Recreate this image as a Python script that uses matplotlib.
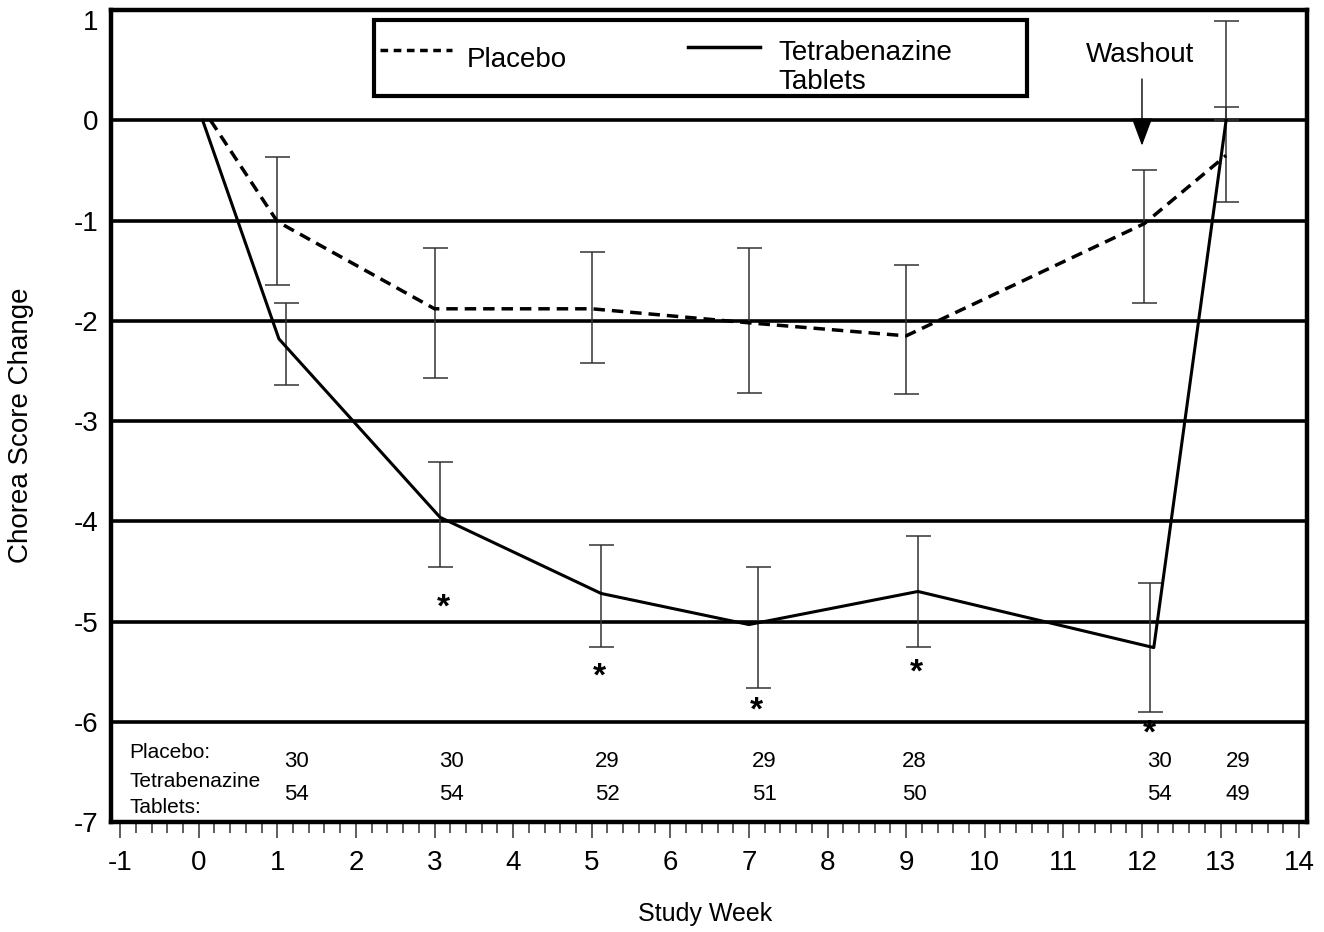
import numpy as np
import matplotlib
matplotlib.use('Agg')
import matplotlib.pyplot as plt
from matplotlib.patches import Rectangle
from matplotlib.ticker import MultipleLocator

plt.rcParams['font.family'] = ['Liberation Sans', 'DejaVu Sans']
plt.rcParams['axes.unicode_minus'] = False

# placebo: mean change and error bar ends per visit
plac_week = [0.15, 1, 3, 5, 7, 9, 12.03, 13.07]
plac_mean = [0, -1.01, -1.88, -1.88, -2.02, -2.15, -1.03, -0.35]
plac_err_week = [1, 3, 5, 7, 9, 12.03, 13.07]
plac_lo = [-1.64, -2.57, -2.42, -2.72, -2.73, -1.82, -0.81]
plac_hi = [-0.37, -1.27, -1.31, -1.27, -1.44, -0.50, 0.13]

# tetrabenazine tablets
tbz_week = [0.05, 1.02, 3.07, 5.12, 7.0, 9.15, 12.15, 13.07]
tbz_mean = [0, -2.18, -3.96, -4.72, -5.03, -4.70, -5.26, 0.0]
tbz_err_week = [1.11, 3.07, 5.12, 7.12, 9.15, 12.1, 13.07]
tbz_lo = [-2.64, -4.46, -5.25, -5.66, -5.25, -5.9, 0.0]
tbz_hi = [-1.82, -3.41, -4.24, -4.46, -4.15, -4.62, 0.99]

# significance stars
star_week = [3.11, 5.1, 7.09, 9.13, 12.09]
star_y = [-4.87, -5.55, -5.89, -5.51, -6.12]

# number of patients per visit
n_week = [1.24, 3.22, 5.2, 7.2, 9.1, 12.22, 13.22]
n_plac = [30, 30, 29, 29, 28, 30, 29]
n_tbz = [54, 54, 52, 51, 50, 54, 49]

grid_levels = [0, -1, -2, -3, -4, -5, -6]

fig = plt.figure(figsize=(13.24, 9.32), dpi=100)
ax = fig.add_axes([0.0836, 0.118, 0.9036, 0.8712])

for g in grid_levels:
    ax.axhline(g, color='black', lw=2.6, zorder=1)

ax.plot(plac_week, plac_mean, color='black', lw=2.5, ls=(0, (3.3, 2.0)), zorder=3)
ax.plot(tbz_week, tbz_mean, color='black', lw=2.2, zorder=3)

pm = np.array(plac_lo + plac_hi).reshape(2, -1).mean(axis=0)
ax.errorbar(plac_err_week, pm, yerr=[pm - np.array(plac_lo), np.array(plac_hi) - pm],
            fmt='none', ecolor='#333333', elinewidth=1.1, capsize=9, capthick=1.1, zorder=2)
tm = np.array(tbz_lo + tbz_hi).reshape(2, -1).mean(axis=0)
ax.errorbar(tbz_err_week, tm, yerr=[tm - np.array(tbz_lo), np.array(tbz_hi) - tm],
            fmt='none', ecolor='#333333', elinewidth=1.1, capsize=9, capthick=1.1, zorder=2)

for x, y in zip(star_week, star_y):
    ax.text(x, y, '*', ha='center', va='center', fontsize=24, fontweight='bold')

# patient counts
ax.text(-0.88, -6.31, 'Placebo:', ha='left', va='center', fontsize=15)
ax.text(-0.88, -6.60, 'Tetrabenazine', ha='left', va='center', fontsize=15)
ax.text(-0.88, -6.86, 'Tablets:', ha='left', va='center', fontsize=15)
for x, a, b in zip(n_week, n_plac, n_tbz):
    ax.text(x, -6.40, str(a), ha='center', va='center', fontsize=16)
    ax.text(x, -6.73, str(b), ha='center', va='center', fontsize=16)

# washout marker
ax.annotate('', xy=(12.0, -0.28), xytext=(12.0, 0.44),
            arrowprops=dict(arrowstyle='-|>,head_length=0.8,head_width=0.3',
                            color='black', lw=1.0, mutation_scale=22))
ax.text(11.98, 0.65, 'Washout', ha='center', va='center', fontsize=20)

# legend box drawn by hand
ax.add_patch(Rectangle((0.220, 0.894), 0.546, 0.094, transform=ax.transAxes,
                       fill=True, facecolor='white', edgecolor='black', lw=3, zorder=5))
ax.plot([0.225, 0.285], [0.951, 0.951], transform=ax.transAxes, color='black',
        lw=2.5, ls=(0, (2.2, 1.6)), zorder=6)
ax.text(0.298, 0.930, 'Placebo', transform=ax.transAxes, ha='left', va='baseline',
        fontsize=20, zorder=6)
ax.plot([0.4825, 0.543], [0.9544, 0.9544], transform=ax.transAxes, color='black',
        lw=2.5, zorder=6)
ax.text(0.5578, 0.9384, 'Tetrabenazine', transform=ax.transAxes, ha='left',
        va='baseline', fontsize=20, zorder=6)
ax.text(0.5578, 0.9027, 'Tablets', transform=ax.transAxes, ha='left',
        va='baseline', fontsize=20, zorder=6)

ax.set_xlim(-1.12, 14.1)
ax.set_ylim(-7.0, 1.1)
ax.xaxis.set_major_locator(MultipleLocator(1))
ax.xaxis.set_minor_locator(MultipleLocator(0.2))
ax.set_yticks(range(-7, 2))
ax.tick_params(axis='x', which='major', length=11.5, width=1.1, labelsize=20, pad=9, color='#333333')
ax.tick_params(axis='x', which='minor', length=8, width=1.1, color='#333333')
ax.tick_params(axis='y', length=0, labelsize=20, pad=9)
for s in ax.spines.values():
    s.set_linewidth(3.2)

ax.set_xlabel('Study Week', fontsize=18)
ax.xaxis.set_label_coords(0.497, -0.099)
ax.set_ylabel('Chorea Score Change', fontsize=20)
ax.yaxis.set_label_coords(-0.064, 0.489)

fig.savefig('out.png', dpi=100)
